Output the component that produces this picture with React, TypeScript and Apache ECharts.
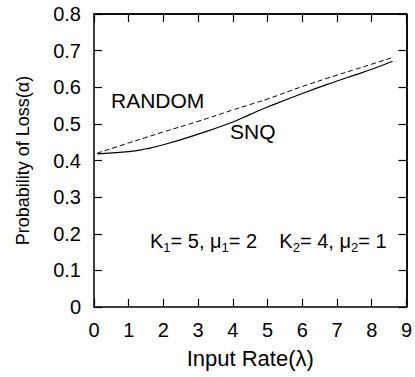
import React, { useEffect, useRef } from "react";
import * as echarts from "echarts";

const xValues = [0.09, 1, 1.5, 2, 3, 4, 4.5, 5, 6, 7, 7.5, 8, 8.6];
const randomValues = [0.42, 0.448, 0.463, 0.478, 0.507, 0.538, 0.553, 0.568, 0.602, 0.633, 0.648, 0.663, 0.681];
const snqValues = [0.418, 0.424, 0.432, 0.443, 0.472, 0.505, 0.526, 0.546, 0.583, 0.617, 0.633, 0.649, 0.671];
const xTicks = { min: 0, max: 9, interval: 1 };
const yTicks = { min: 0, max: 0.8, interval: 0.1 };

const FONT = "'Liberation Sans', Arial, sans-serif";

export default function App() {
  const ref = useRef<HTMLDivElement>(null);
  useEffect(() => {
    if (!ref.current) return;
    const chart = echarts.init(ref.current, null, { renderer: "svg" });
    const axisLine = () => ({ show: true, onZero: false, lineStyle: { color: "#000", width: 1.5 } });
    const axisTick = () => ({ show: true, inside: true, length: 8, lineStyle: { color: "#000", width: 1.2 } });
    chart.setOption({
      animation: false,
      backgroundColor: "#fff",
      textStyle: { fontFamily: FONT },
      grid: { left: 94, right: 5, top: 14, bottom: 70 },
      xAxis: [
        {
          type: "value",
          ...xTicks,
          axisLine: axisLine(),
          axisTick: axisTick(),
          splitLine: { show: false },
          axisLabel: { color: "#000", fontSize: 20, margin: 13, fontFamily: FONT },
          name: "Input Rate(λ)",
          nameLocation: "middle",
          nameGap: 40,
          nameTextStyle: { color: "#000", fontSize: 22, fontFamily: FONT },
        },
        {
          type: "value",
          position: "top",
          ...xTicks,
          axisLine: axisLine(),
          axisTick: axisTick(),
          splitLine: { show: false },
          axisLabel: { show: false },
        },
      ],
      yAxis: [
        {
          type: "value",
          ...yTicks,
          axisLine: axisLine(),
          axisTick: axisTick(),
          splitLine: { show: false },
          axisLabel: { color: "#000", fontSize: 20, margin: 13, fontFamily: FONT },
          name: "Probability of Loss(α)",
          nameLocation: "middle",
          nameGap: 62,
          nameTextStyle: { color: "#000", fontSize: 18, fontFamily: FONT },
        },
        {
          type: "value",
          position: "right",
          ...yTicks,
          axisLine: axisLine(),
          axisTick: axisTick(),
          splitLine: { show: false },
          axisLabel: { show: false },
        },
      ],
      series: [
        {
          name: "RANDOM",
          type: "line",
          smooth: true,
          showSymbol: false,
          xAxisIndex: 0,
          yAxisIndex: 0,
          data: xValues.map((x, i) => [x, randomValues[i]]),
          lineStyle: { color: "#000", width: 1, type: [5, 3] },
          markLine: {
            silent: true,
            symbol: ["none", "none"],
            label: { show: false },
            lineStyle: { color: "#000", width: 1.5, type: "solid" },
            data: [
              [{ coord: [xTicks.min, yTicks.max] }, { coord: [xTicks.max, yTicks.max] }],
              [{ coord: [xTicks.max, yTicks.min] }, { coord: [xTicks.max, yTicks.max] }],
            ],
          },
        },
        {
          name: "SNQ",
          type: "line",
          smooth: true,
          showSymbol: false,
          xAxisIndex: 1,
          yAxisIndex: 1,
          data: xValues.map((x, i) => [x, snqValues[i]]),
          lineStyle: { color: "#000", width: 1.2, type: "solid" },
        },
      ],
      graphic: [
        {
          type: "text",
          left: 111,
          top: 90,
          style: { text: "RANDOM", fill: "#000", font: `21px ${FONT}` },
        },
        {
          type: "text",
          left: 230,
          top: 121,
          style: { text: "SNQ", fill: "#000", font: `21px ${FONT}` },
        },
        {
          type: "text",
          left: 150,
          top: 228,
          style: {
            text: "K{sub|1}= 5, μ{sub|1}= 2    K{sub|2}= 4, μ{sub|2}= 1",
            fill: "#000",
            font: `20px ${FONT}`,
            rich: {
              sub: { fontSize: 13, lineHeight: 13, verticalAlign: "bottom", fontFamily: FONT, fill: "#000" },
            },
            lineHeight: 26,
          },
        },
      ],
    });
    return () => chart.dispose();
  }, []);
  return <div ref={ref} style={{ position: "fixed", left: 0, top: 0, width: 415, height: 377 }} />;
}
